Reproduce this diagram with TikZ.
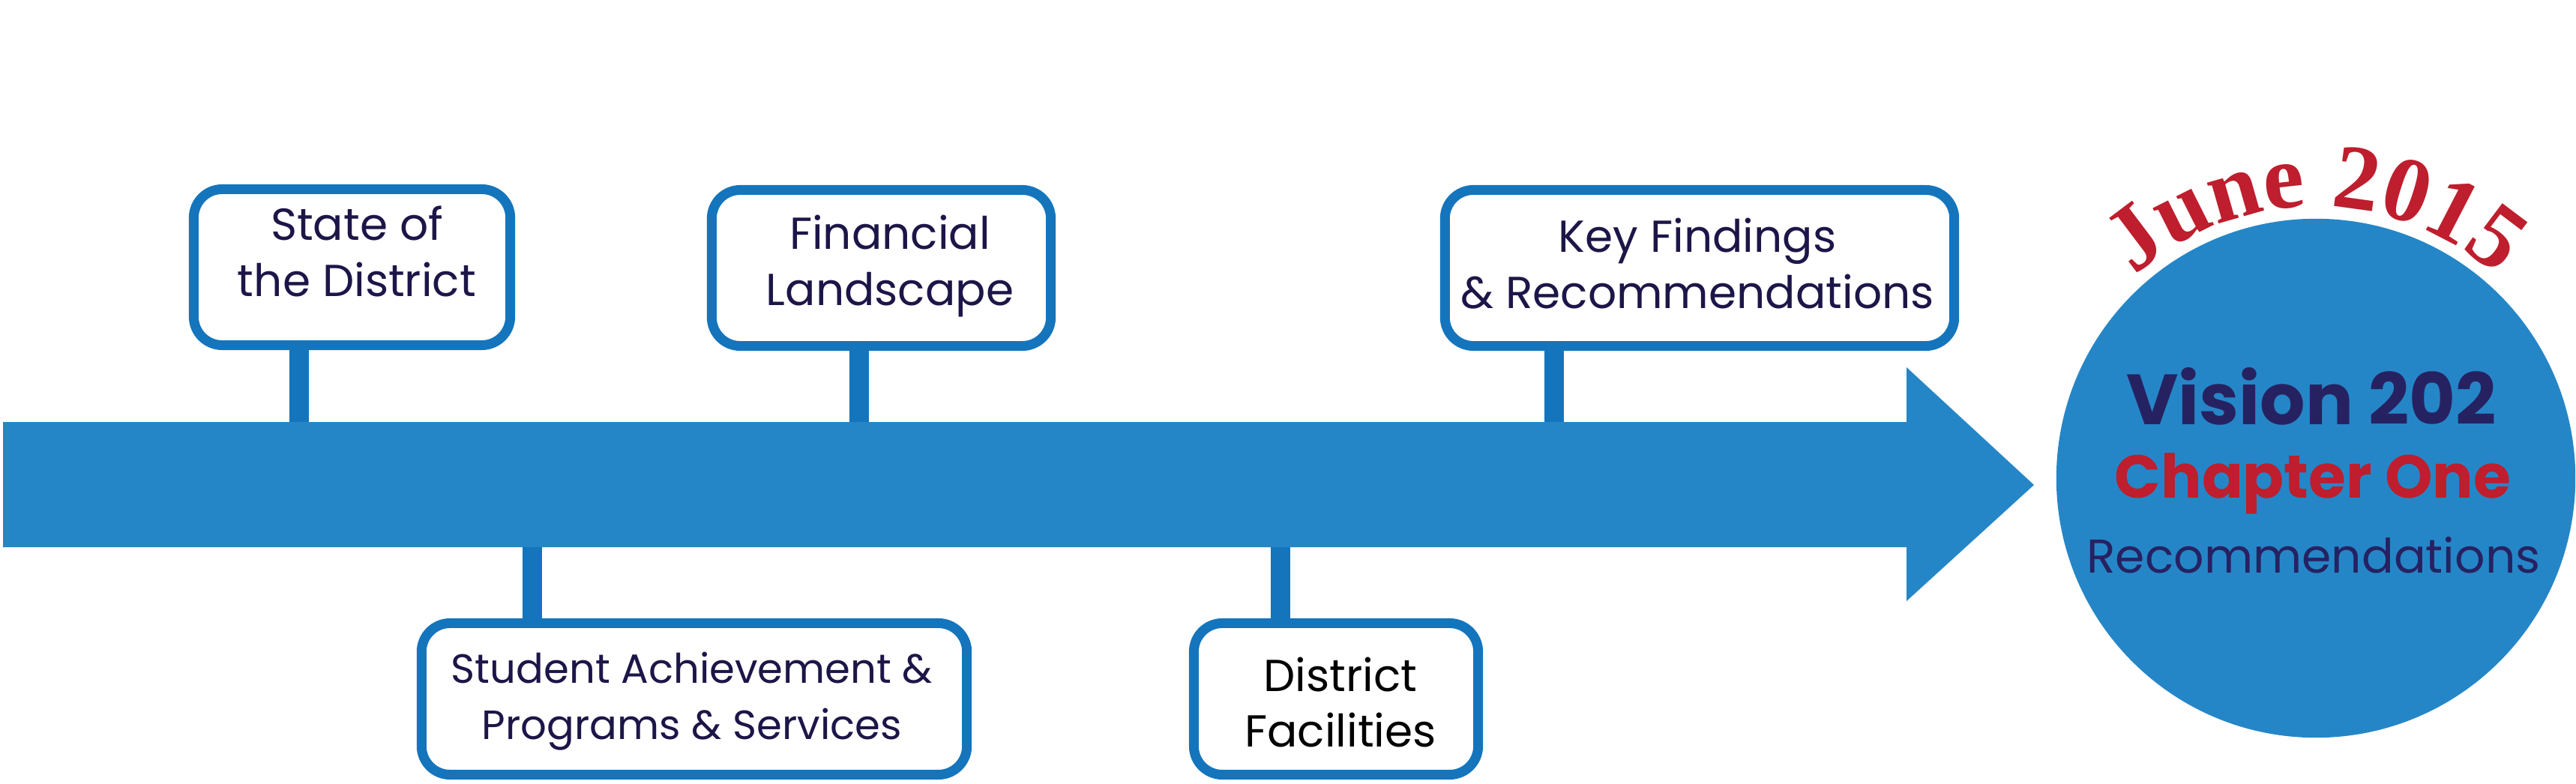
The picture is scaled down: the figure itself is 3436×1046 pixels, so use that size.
\documentclass[tikz,border=0pt]{standalone}
\usepackage{fontspec}
\setmainfont{Poppins}
\newfontfamily\junefont{Liberation Serif}
\usetikzlibrary{decorations.text}

\definecolor{arrowblue}{RGB}{37,134,199}
\definecolor{boxblue}{RGB}{20,117,189}
\definecolor{boxtext}{RGB}{28,22,72}
\definecolor{visionnavy}{RGB}{38,34,98}
\definecolor{junered}{RGB}{190,30,45}

\tikzset{
  topic/.style={draw=boxblue, line width=0.13cm, rounded corners=0.38cm, fill=white, inner sep=0pt},
  topictext/.style={text=boxtext, align=center, font=\fontsize{17}{21.3}\selectfont},
  stem/.style={draw=boxblue, line width=0.26cm},
}

\begin{document}
\begin{tikzpicture}[x=0.01cm, y=-0.01cm]

        \useasboundingbox (0,0) rectangle (3436,1046);

        % timeline arrow
        \fill[arrowblue] (4,563) -- (2543,563) -- (2543,490) -- (2713,647) -- (2543,802) -- (2543,730) -- (4,730) -- cycle;
        \coordinate (shafttop) at (0,563);
        \coordinate (shaftbot) at (0,730);

        % topic boxes above the arrow
        \node[topic, minimum width=4.22cm, minimum height=2.08cm] (state) at (469.5,356.5) {};
        \node[topic, minimum width=4.52cm, minimum height=2.08cm] (finance) at (1175.5,357.5) {};
        \node[topic, minimum width=6.79cm, minimum height=2.08cm] (findings) at (2267,357.5) {};
        % topic boxes below the arrow
        \node[topic, minimum width=7.27cm, minimum height=2.02cm] (student) at (926,932.5) {};
        \node[topic, minimum width=3.79cm, minimum height=2.02cm] (facilities) at (1782,932.5) {};

        \node[topictext] (statetxt) at (476,335) {State of\\the District};
        \node[topictext] (financetxt) at (1187,355) {Financial\\Landscape};
        \node[topictext] (findingstxt) at (2264,352) {Key Findings\\\& Recommendations};
        \node[topictext, font=\fontsize{15.5}{21.3}\selectfont] (studenttxt) at (923,936) {Student Achievement \&\\Programs \& Services};
        \node[topictext, text=black] (facilitiestxt) at (1788,937) {District\\Facilities};

        % stems
        \coordinate (s1) at (399,0);
        \coordinate (s2) at (1146,0);
        \coordinate (s3) at (2073,0);
        \coordinate (s4) at (710,0);
        \coordinate (s5) at (1708,0);
        \draw[stem] (s1 |- state.south) -- (s1 |- shafttop);
        \draw[stem] (s2 |- finance.south) -- (s2 |- shafttop);
        \draw[stem] (s3 |- findings.south) -- (s3 |- shafttop);
        \draw[stem] (s4 |- student.north) -- (s4 |- shaftbot);
        \draw[stem] (s5 |- facilities.north) -- (s5 |- shaftbot);

        % goal circle
        \node[circle, fill=arrowblue, minimum size=6.92cm, inner sep=0pt] (goal) at (3089,638) {};
        \node[anchor=base, text=visionnavy, font=\bfseries\fontsize{27}{27}\selectfont] (vision) at (3083,567) {Vision 202};
        \node[anchor=base, text=junered, font=\bfseries\fontsize{23}{23}\selectfont] (chapter) at (3085,664) {Chapter One};
        \node[anchor=base, text=visionnavy, font=\fontsize{18}{18}\selectfont] (recs) at (3086,764) {Recommendations};

        \path[decorate, decoration={text along path, text align=center, text color=junered,
              text={|\junefont\bfseries\fontsize{35}{35}\selectfont|June 2015}}]
              ([shift={(150:3.62cm)}]goal.center) arc[start angle=150, end angle=30, radius=3.62cm];

\end{tikzpicture}
\end{document}
